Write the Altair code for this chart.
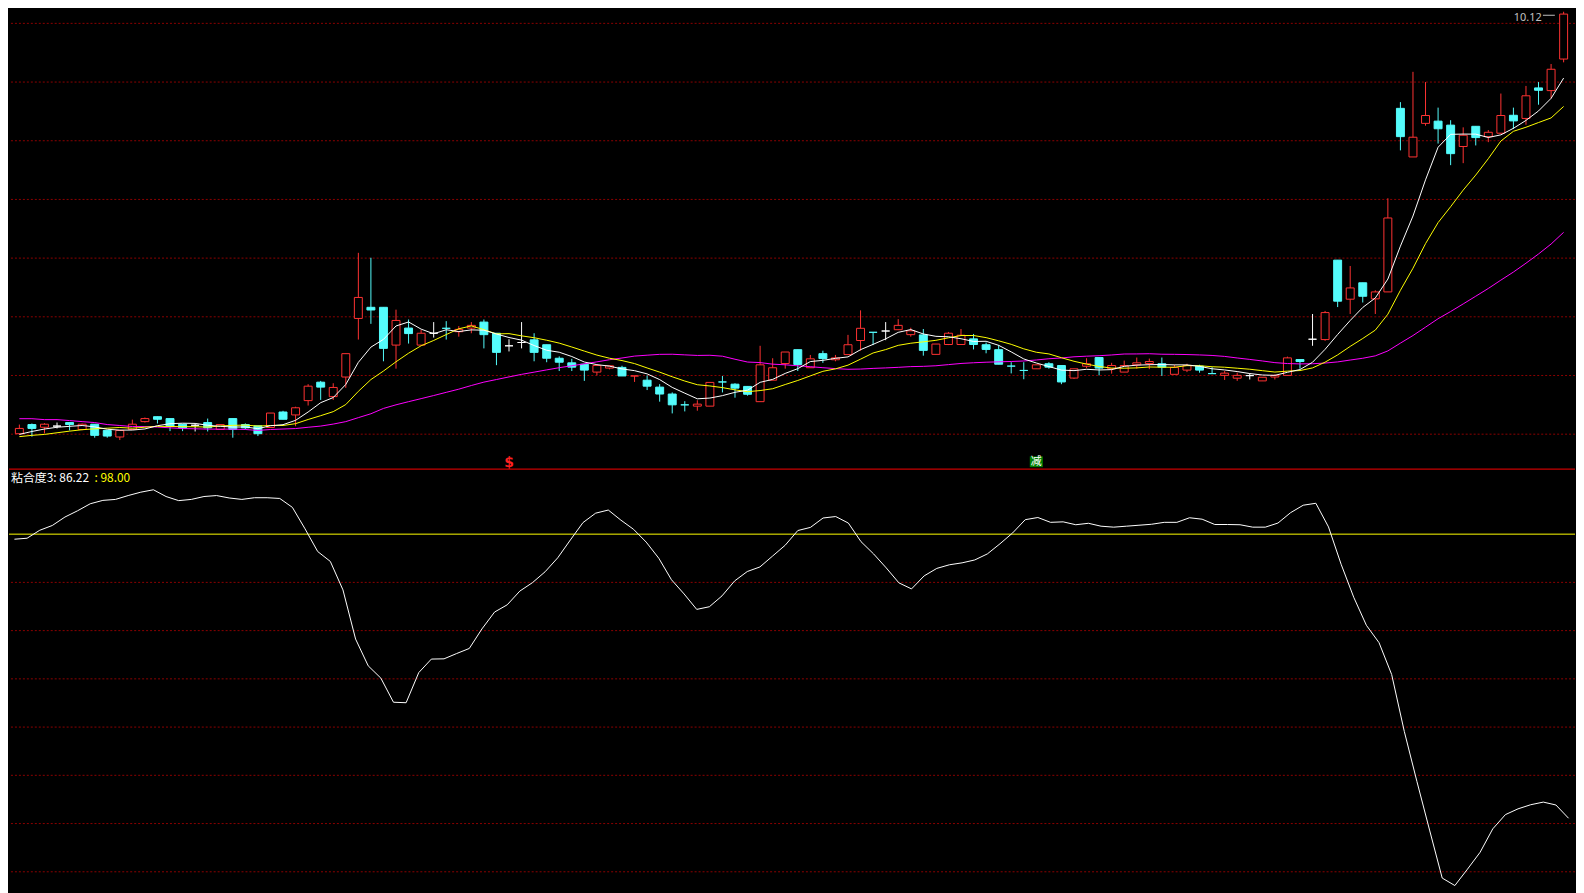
import altair as alt
import pandas as pd

# ---------------- candle data (daily K-line) ----------------
opens = [
    6.525, 6.603, 6.580, 6.590, 6.620, 6.561, 6.606, 6.553, 6.497, 6.561,
    6.628, 6.670, 6.654, 6.606, 6.597, 6.620, 6.561, 6.654, 6.603, 6.592,
    6.578, 6.710, 6.685, 6.807, 6.964, 6.841, 7.008, 7.507, 7.602, 7.602,
    7.280, 7.425, 7.280, 7.381, 7.423, 7.394, 7.425, 7.476, 7.381, 7.274,
    7.302, 7.325, 7.283, 7.168, 7.129, 7.117, 7.050, 7.084, 7.090, 7.017,
    6.981, 6.922, 6.863, 6.771, 6.760, 6.760, 6.966, 6.947, 6.928, 6.798,
    6.981, 7.123, 7.241, 7.087, 7.207, 7.155, 7.199, 7.319, 7.389, 7.400,
    7.411, 7.369, 7.367, 7.201, 7.285, 7.285, 7.333, 7.283, 7.241, 7.101,
    7.064, 7.078, 7.121, 7.106, 6.999, 7.100, 7.174, 7.078, 7.050, 7.112,
    7.123, 7.121, 7.031, 7.067, 7.101, 7.037, 7.022, 6.998, 7.020, 6.975,
    7.008, 7.022, 7.157, 7.330, 7.327, 8.004, 7.671, 7.811, 7.674, 7.733,
    9.297, 8.883, 9.169, 9.188, 9.154, 8.972, 9.144, 9.056, 9.085, 9.238,
    9.211, 9.471, 9.448, 9.717,
]
highs = [
    6.603, 6.612, 6.615, 6.620, 6.620, 6.612, 6.606, 6.553, 6.553, 6.645,
    6.663, 6.670, 6.654, 6.606, 6.612, 6.654, 6.603, 6.654, 6.613, 6.592,
    6.701, 6.720, 6.755, 6.947, 6.975, 6.955, 7.207, 8.066, 8.024, 7.602,
    7.582, 7.498, 7.409, 7.476, 7.484, 7.442, 7.476, 7.498, 7.381, 7.330,
    7.476, 7.381, 7.283, 7.184, 7.163, 7.117, 7.106, 7.104, 7.104, 7.017,
    7.022, 6.947, 6.877, 6.802, 6.810, 6.962, 7.017, 6.955, 6.928, 7.274,
    7.168, 7.221, 7.241, 7.196, 7.232, 7.196, 7.367, 7.576, 7.389, 7.476,
    7.501, 7.428, 7.417, 7.289, 7.392, 7.417, 7.375, 7.302, 7.280, 7.134,
    7.134, 7.112, 7.134, 7.106, 7.078, 7.168, 7.174, 7.129, 7.148, 7.174,
    7.165, 7.174, 7.112, 7.121, 7.112, 7.092, 7.059, 7.045, 7.037, 7.006,
    7.031, 7.182, 7.157, 7.545, 7.571, 8.004, 7.954, 7.811, 7.747, 8.531,
    9.350, 9.608, 9.521, 9.303, 9.196, 9.135, 9.144, 9.112, 9.423, 9.303,
    9.488, 9.521, 9.675, 10.120,
]
lows = [
    6.519, 6.500, 6.528, 6.570, 6.553, 6.555, 6.491, 6.491, 6.471, 6.561,
    6.620, 6.612, 6.547, 6.547, 6.544, 6.544, 6.561, 6.491, 6.562, 6.505,
    6.578, 6.648, 6.589, 6.765, 6.813, 6.813, 6.916, 7.327, 7.461, 7.142,
    7.079, 7.293, 7.280, 7.344, 7.327, 7.352, 7.381, 7.252, 7.109, 7.226,
    7.252, 7.142, 7.134, 7.059, 7.059, 6.975, 7.022, 7.073, 7.017, 6.966,
    6.897, 6.798, 6.698, 6.715, 6.721, 6.760, 6.877, 6.832, 6.849, 6.798,
    6.981, 7.079, 7.059, 7.087, 7.129, 7.142, 7.199, 7.232, 7.280, 7.322,
    7.411, 7.352, 7.190, 7.201, 7.280, 7.285, 7.243, 7.210, 7.117, 7.039,
    6.989, 7.078, 7.079, 6.947, 6.991, 7.084, 7.022, 7.037, 7.050, 7.079,
    7.075, 7.017, 7.031, 7.050, 7.045, 7.037, 6.983, 6.975, 6.987, 6.975,
    6.987, 7.022, 7.079, 7.274, 7.316, 7.604, 7.545, 7.643, 7.545, 7.733,
    8.939, 8.883, 9.149, 8.997, 8.813, 8.830, 8.981, 9.009, 9.085, 9.121,
    9.157, 9.328, 9.381, 9.689,
]
closes = [
    6.570, 6.570, 6.606, 6.590, 6.603, 6.606, 6.511, 6.505, 6.553, 6.606,
    6.654, 6.648, 6.590, 6.575, 6.597, 6.575, 6.603, 6.561, 6.575, 6.525,
    6.701, 6.648, 6.746, 6.930, 6.922, 6.919, 7.207, 7.686, 7.579, 7.252,
    7.490, 7.378, 7.381, 7.381, 7.423, 7.414, 7.448, 7.369, 7.218, 7.274,
    7.302, 7.218, 7.168, 7.134, 7.092, 7.067, 7.106, 7.104, 7.017, 7.017,
    6.930, 6.863, 6.771, 6.771, 6.777, 6.962, 6.966, 6.913, 6.861, 7.112,
    7.087, 7.221, 7.115, 7.163, 7.165, 7.171, 7.283, 7.423, 7.389, 7.400,
    7.448, 7.402, 7.235, 7.289, 7.381, 7.364, 7.285, 7.243, 7.117, 7.101,
    7.064, 7.112, 7.092, 6.966, 7.078, 7.121, 7.084, 7.106, 7.106, 7.129,
    7.140, 7.092, 7.090, 7.106, 7.067, 7.037, 7.041, 7.022, 7.020, 7.006,
    7.022, 7.171, 7.140, 7.330, 7.557, 7.654, 7.767, 7.696, 7.733, 8.363,
    9.056, 9.051, 9.236, 9.123, 8.911, 9.068, 9.048, 9.093, 9.236, 9.190,
    9.404, 9.451, 9.630, 10.100,
]
# r = rising (red, hollow), c = falling (cyan, filled), w = flat doji (white)
kinds = [
    "r", "c", "r", "w", "c", "r", "c", "c", "r", "r",
    "r", "c", "c", "c", "w", "c", "r", "c", "c", "c",
    "r", "c", "r", "r", "c", "r", "r", "r", "c", "c",
    "r", "c", "r", "w", "c", "r", "r", "c", "c", "w",
    "w", "c", "c", "c", "c", "c", "r", "r", "c", "r",
    "c", "c", "c", "c", "r", "r", "c", "c", "c", "r",
    "r", "r", "c", "r", "c", "r", "r", "r", "c", "w",
    "r", "r", "c", "r", "r", "r", "c", "c", "c", "c",
    "c", "r", "c", "c", "r", "r", "c", "r", "r", "r",
    "r", "c", "r", "r", "c", "c", "r", "r", "w", "r",
    "r", "r", "c", "w", "r", "c", "r", "c", "r", "r",
    "c", "r", "r", "c", "c", "r", "c", "r", "r", "c",
    "r", "c", "r", "r",
]

# moving-average values for the first days (before a full window exists)
ma5_head = [6.519, 6.544, 6.565, 6.580]
ma10_head = [6.500, 6.511, 6.519, 6.533, 6.547, 6.559, 6.567, 6.572, 6.578]
ma30_head = [
    6.653, 6.653, 6.645, 6.645, 6.637, 6.628, 6.620, 6.603, 6.595, 6.586,
    6.586, 6.582, 6.575, 6.569, 6.567, 6.564, 6.564, 6.564, 6.561, 6.553,
    6.561, 6.565, 6.569, 6.580, 6.590, 6.607, 6.628, 6.662, 6.695,
]

# 粘合度3 indicator
nhd = [
    97.79, 97.83, 98.16, 98.36, 98.71, 98.97, 99.26, 99.40, 99.44, 99.60,
    99.74, 99.84, 99.56, 99.39, 99.44, 99.56, 99.60, 99.50, 99.44, 99.51,
    99.51, 99.48, 99.11, 98.22, 97.28, 96.87, 95.69, 93.65, 92.54, 92.03,
    91.03, 91.01, 92.26, 92.82, 92.83, 93.05, 93.26, 94.07, 94.77, 95.07,
    95.64, 95.99, 96.44, 97.02, 97.76, 98.48, 98.87, 99.00, 98.58, 98.20,
    97.67, 97.00, 96.11, 95.52, 94.88, 94.99, 95.44, 96.06, 96.45, 96.64,
    97.09, 97.54, 98.15, 98.28, 98.67, 98.73, 98.46, 97.69, 97.18, 96.60,
    95.98, 95.73, 96.27, 96.58, 96.73, 96.81, 96.93, 97.18, 97.60, 98.05,
    98.60, 98.69, 98.49, 98.51, 98.39, 98.45, 98.33, 98.29, 98.33, 98.37,
    98.41, 98.49, 98.49, 98.68, 98.62, 98.40, 98.40, 98.39, 98.29, 98.29,
    98.46, 98.89, 99.20, 99.28, 98.30, 96.75, 95.38, 94.22, 93.50, 92.18,
    89.82, 87.74, 85.73, 83.74, 83.43, 84.11, 84.81, 85.78, 86.37, 86.61,
    86.78, 86.89, 86.77, 86.22,
]
nhd_level = 98.00

grid_top = [10.021, 9.521, 9.021, 8.521, 8.021, 7.521, 7.021, 6.521]
grid_bottom = [96, 94, 92, 90, 88, 86, 84]

signal_idx = [39, 81]
signal_txt = ["$", "减"]
signal_price = [6.276, 6.286]

# ---------------- build tables ----------------
n = len(closes)
idx = list(range(n))
RED, CYAN, WHITE = "#ff3232", "#54fcfc", "#ffffff"
line_col = {"r": RED, "c": CYAN, "w": WHITE}
fill_col = {"r": "#000000", "c": CYAN, "w": WHITE}

cdf = pd.DataFrame({
    "i": idx, "open": opens, "high": highs, "low": lows, "close": closes,
    "lc": [line_col[k] for k in kinds], "fc": [fill_col[k] for k in kinds],
})

s = pd.Series(closes)
ma5 = s.rolling(5).mean().tolist()
ma10 = s.rolling(10).mean().tolist()
ma30 = s.rolling(30).mean().tolist()
ma5[:len(ma5_head)] = ma5_head
ma10[:len(ma10_head)] = ma10_head
ma30[:len(ma30_head)] = ma30_head
madf = pd.DataFrame({"i": idx, "ma5": ma5, "ma10": ma10, "ma30": ma30})

# page has an 8px margin: the chart fills the remaining 1576 x 885
W = 1576
H_TOP = 462
H_BOT = 423
xscale = alt.Scale(domain=[-0.43, 123.51], nice=False, zero=False)
yscale_top = alt.Scale(domain=[6.2169, 10.128], nice=False, zero=False)
yscale_bot = alt.Scale(domain=[83.237, 100.665], nice=False, zero=False)
X = alt.X("i:Q", scale=xscale, axis=None)

GRID = "#8c0000"

# ---------------- top panel ----------------
grid1 = alt.Chart(pd.DataFrame({"p": grid_top})).mark_rule(
    color=GRID, strokeWidth=1, strokeDash=[2, 2]
).encode(y=alt.Y("p:Q", scale=yscale_top, axis=None))

wicks = alt.Chart(cdf).mark_rule(strokeWidth=1).encode(
    x=X,
    y=alt.Y("low:Q", scale=yscale_top, axis=None),
    y2="high:Q",
    color=alt.Color("lc:N", scale=None),
)
bodies = alt.Chart(cdf).mark_bar(size=8, strokeWidth=1).encode(
    x=X,
    y=alt.Y("open:Q", scale=yscale_top, axis=None),
    y2="close:Q",
    stroke=alt.Stroke("lc:N", scale=None),
    fill=alt.Fill("fc:N", scale=None),
)


def ma_line(col, color):
    return alt.Chart(madf).mark_line(color=color, strokeWidth=1, interpolate="linear").encode(
        x=X, y=alt.Y(f"{col}:Q", scale=yscale_top, axis=None)
    )


l5 = ma_line("ma5", "#ffffff")
l10 = ma_line("ma10", "#ffff00")
l30 = ma_line("ma30", "#ff00ff")

imax = int(max(range(n), key=lambda k: highs[k]))
maxdf = pd.DataFrame({
    "i": [imax], "p": [highs[imax]], "t": [f"{highs[imax]:.2f}"],
    "i1": [imax - 1.65], "i2": [imax - 0.7], "pl": [highs[imax] - 0.03],
})
max_txt = alt.Chart(maxdf).mark_text(
    align="right", baseline="alphabetic", dx=-22, dy=9.5, color="#c0c0c0",
    fontSize=11, font="Noto Sans"
).encode(x=X, y=alt.Y("p:Q", scale=yscale_top, axis=None), text="t:N")
max_rule = alt.Chart(maxdf).mark_rule(color="#c0c0c0", strokeWidth=1).encode(
    x=alt.X("i1:Q", scale=xscale, axis=None), x2="i2:Q",
    y=alt.Y("pl:Q", scale=yscale_top, axis=None),
)

sigdf = pd.DataFrame({"i": signal_idx, "t": signal_txt, "p": signal_price,
                      "a": [s_ - 0.52 for s_ in signal_idx], "b": [s_ + 0.52 for s_ in signal_idx],
                      "p1": [pp - 0.046 for pp in signal_price], "p2": [pp + 0.046 for pp in signal_price]})
sig_box = alt.Chart(sigdf).transform_filter(alt.datum.t == "减").mark_rect(color="#008000").encode(
    x=alt.X("a:Q", scale=xscale, axis=None), x2="b:Q",
    y=alt.Y("p1:Q", scale=yscale_top, axis=None), y2="p2:Q",
)
sig_s = alt.Chart(sigdf).transform_filter(alt.datum.t == "$").mark_text(
    color="#ff2020", fontSize=14, fontWeight="bold", font="DejaVu Sans", baseline="middle"
).encode(x=X, y=alt.Y("p:Q", scale=yscale_top, axis=None), text="t:N")
sig_j = alt.Chart(sigdf).transform_filter(alt.datum.t == "减").mark_text(
    color="#ffffff", fontSize=11, font="Noto Sans CJK SC", baseline="middle"
).encode(x=X, y=alt.Y("p:Q", scale=yscale_top, axis=None), text="t:N")

sep = alt.Chart(pd.DataFrame({"d": [0]})).mark_rule(color="#c80000", strokeWidth=1.3).encode(
    y=alt.value(461.3)
)

top = alt.layer(grid1, wicks, bodies, l30, l10, l5, sig_box, sig_s, sig_j, max_rule, max_txt, sep).properties(
    width=W, height=H_TOP
)

# ---------------- bottom panel ----------------
ndf = pd.DataFrame({"i": idx, "v": nhd})
grid2 = alt.Chart(pd.DataFrame({"v": grid_bottom})).mark_rule(
    color=GRID, strokeWidth=1, strokeDash=[2, 2]
).encode(y=alt.Y("v:Q", scale=yscale_bot, axis=None))
level = alt.Chart(pd.DataFrame({"v": [nhd_level]})).mark_rule(color="#ffff00", strokeWidth=1).encode(
    y=alt.Y("v:Q", scale=yscale_bot, axis=None)
)
nline = alt.Chart(ndf).mark_line(color="#ffffff", strokeWidth=1).encode(
    x=X, y=alt.Y("v:Q", scale=yscale_bot, axis=None)
)
lbl = pd.DataFrame({"a": [f"粘合度3: {nhd[-1]:.2f}"], "b": [f": {nhd_level:.2f}"]})
t1 = alt.Chart(lbl).mark_text(align="left", baseline="middle", color="#ffffff", fontSize=12,
                              font="Noto Sans CJK SC").encode(x=alt.value(2), y=alt.value(8), text="a:N")
t2 = alt.Chart(lbl).mark_text(align="left", baseline="middle", color="#ffff00", fontSize=12,
                              font="Noto Sans CJK SC").encode(x=alt.value(86), y=alt.value(8), text="b:N")

bottom = alt.layer(grid2, level, nline, t1, t2).properties(width=W, height=H_BOT)

chart = alt.vconcat(top, bottom, spacing=0).properties(
    padding=0,
    bounds="flush",
).configure(background="#000000").configure_view(strokeWidth=0)

chart.save("out.html", embed_options={"renderer": "svg", "actions": False})
